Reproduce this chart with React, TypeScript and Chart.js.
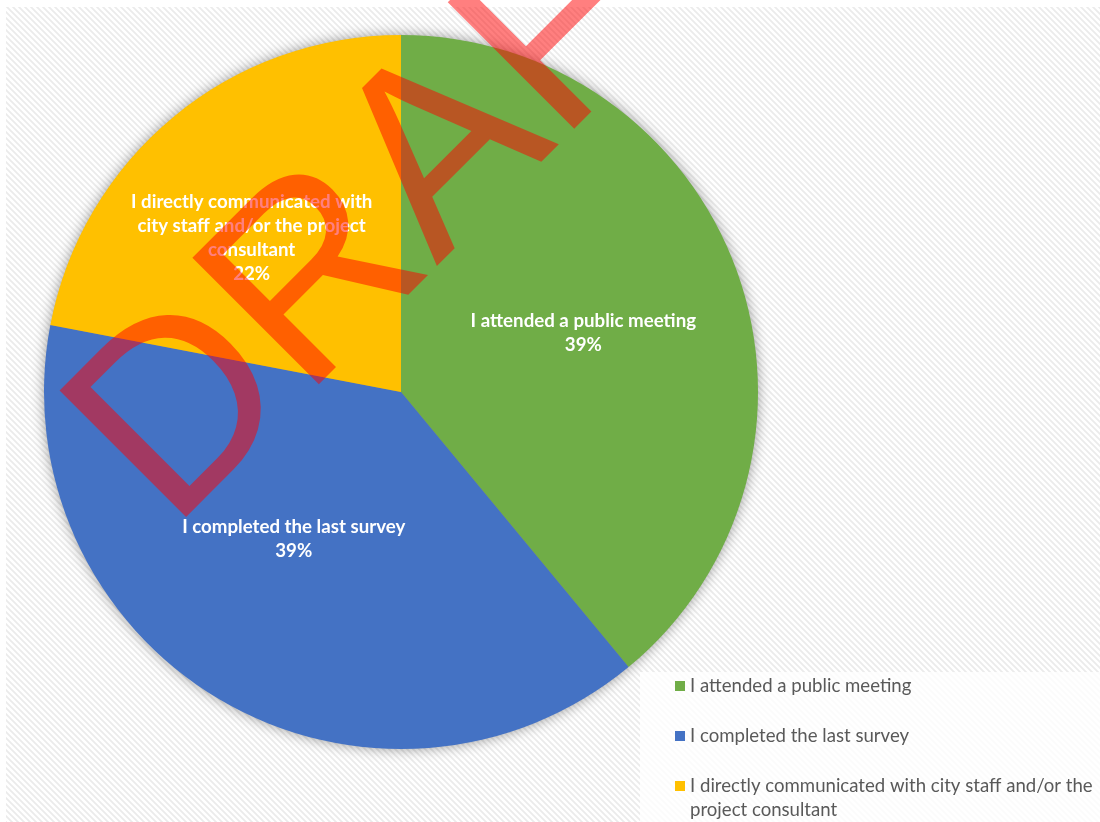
import React, { useEffect, useRef } from "react";
import { Chart, registerables } from "chart.js";

Chart.register(...registerables);

// ---- data ----
const categories = [
  "I attended a public meeting",
  "I completed the last survey",
  "I directly communicated with city staff and/or the project consultant",
];
const values = [39, 39, 22];
const colors = ["#70AD47", "#4472C4", "#FFC000"];
const watermarkText = "DRAFT";

// ---- label placement (polar: fraction of radius, angle tweak in degrees) ----
const labelPlacement = [
  { r: 0.537, da: 1.8 },
  { r: 0.51, da: 5.5 },
  { r: 0.6, da: -4.6 },
];

const LABEL_FONT = "bold 18.7px Lato";
const LEGEND_FONT = "18.6px Lato";

function wrap(ctx: CanvasRenderingContext2D, text: string, maxW: number): string[] {
  const words = text.split(" ");
  const lines: string[] = [];
  let cur = "";
  for (const w of words) {
    const t = cur ? cur + " " + w : w;
    if (ctx.measureText(t).width > maxW && cur) {
      lines.push(cur);
      cur = w;
    } else cur = t;
  }
  if (cur) lines.push(cur);
  return lines;
}

const customPlugin = {
  id: "custom",
  beforeDraw(chart: any) {
    const ctx: CanvasRenderingContext2D = chart.ctx;
    const W = chart.width;
    const H = chart.height;
    ctx.save();
    ctx.fillStyle = "#ffffff";
    ctx.fillRect(0, 0, W, H);
    const pc = document.createElement("canvas");
    pc.width = 6;
    pc.height = 6;
    const p = pc.getContext("2d")!;
    p.fillStyle = "#ffffff";
    p.fillRect(0, 0, 6, 6);
    p.strokeStyle = "#ebebeb";
    p.lineWidth = 1.8;
    p.beginPath();
    p.moveTo(-2, -2);
    p.lineTo(8, 8);
    p.moveTo(-8, -2);
    p.lineTo(2, 8);
    p.moveTo(4, -2);
    p.lineTo(14, 8);
    p.stroke();
    const pat = ctx.createPattern(pc, "repeat");
    if (pat) ctx.fillStyle = pat;
    ctx.fillRect(6, 7, W - 6, H - 7);
    ctx.restore();
  },
  beforeDatasetsDraw(chart: any) {
    const ctx: CanvasRenderingContext2D = chart.ctx;
    const arc = chart.getDatasetMeta(0).data[0];
    const { x, y, outerRadius } = arc.getProps(["x", "y", "outerRadius"], true);
    ctx.save();
    ctx.shadowColor = "rgba(0,0,0,0.45)";
    ctx.shadowBlur = 14;
    ctx.fillStyle = "#888888";
    ctx.beginPath();
    ctx.arc(x, y, outerRadius - 1, 0, Math.PI * 2);
    ctx.fill();
    ctx.restore();
  },
  afterDatasetsDraw(chart: any) {
    const ctx: CanvasRenderingContext2D = chart.ctx;
    const meta = chart.getDatasetMeta(0);
    const total = values.reduce((a, b) => a + b, 0);
    ctx.save();
    ctx.font = LABEL_FONT;
    ctx.fillStyle = "#ffffff";
    ctx.textAlign = "center";
    ctx.textBaseline = "middle";
    meta.data.forEach((arc: any, i: number) => {
      const { x, y, startAngle, endAngle, outerRadius } = arc.getProps(
        ["x", "y", "startAngle", "endAngle", "outerRadius"],
        true
      );
      const pl = labelPlacement[i];
      const mid = (startAngle + endAngle) / 2 + (pl.da * Math.PI) / 180;
      const px = x + Math.cos(mid) * outerRadius * pl.r;
      const py = y + Math.sin(mid) * outerRadius * pl.r;
      const lines = wrap(ctx, categories[i], 255);
      lines.push(Math.round((values[i] / total) * 100) + "%");
      const lh = 24;
      const y0 = py - ((lines.length - 1) * lh) / 2;
      lines.forEach((ln, k) => ctx.fillText(ln, px, y0 + k * lh));
    });
    ctx.restore();
  },
  afterDraw(chart: any) {
    const ctx: CanvasRenderingContext2D = chart.ctx;
    const W = chart.width;
    const H = chart.height;
    // legend box
    ctx.save();
    ctx.fillStyle = "rgba(255,255,255,0.78)";
    ctx.fillRect(640, 672, W - 640, H - 672);
    ctx.font = LEGEND_FONT;
    ctx.textBaseline = "middle";
    ctx.textAlign = "left";
    let y = 686;
    categories.forEach((c, i) => {
      ctx.fillStyle = colors[i];
      ctx.fillRect(675, y - 5, 10, 10);
      ctx.fillStyle = "#595959";
      const lines = wrap(ctx, c, 408);
      lines.forEach((ln, k) => ctx.fillText(ln, 690, y + k * 24));
      y += 50;
    });
    ctx.restore();
    // watermark
    ctx.save();
    ctx.translate(171, 532);
    ctx.rotate(-Math.PI / 4);
    ctx.font = "260px 'Liberation Sans'";
    ctx.fillStyle = "rgba(255,0,0,0.5)";
    ctx.textBaseline = "alphabetic";
    ctx.textAlign = "left";
    ctx.fillText(watermarkText, 0, 0);
    ctx.restore();
  },
};

export default function App() {
  const ref = useRef<HTMLCanvasElement>(null);
  useEffect(() => {
    document.body.style.margin = "0";
    const chart = new Chart(ref.current!, {
      type: "pie",
      data: {
        labels: categories,
        datasets: [{ data: values, backgroundColor: colors, borderWidth: 0 }],
      },
      options: {
        responsive: false,
        animation: false,
        devicePixelRatio: 1,
        layout: { padding: { left: 44, right: 342, top: 35, bottom: 73 } },
        plugins: { legend: { display: false }, tooltip: { enabled: false } },
      },
      plugins: [customPlugin],
    } as any);
    return () => chart.destroy();
  }, []);
  return (
    <div style={{ position: "absolute", left: 0, top: 0, width: 1100, height: 822, overflow: "hidden" }}>
      <canvas ref={ref} width={1100} height={822} style={{ display: "block" }} />
    </div>
  );
}
